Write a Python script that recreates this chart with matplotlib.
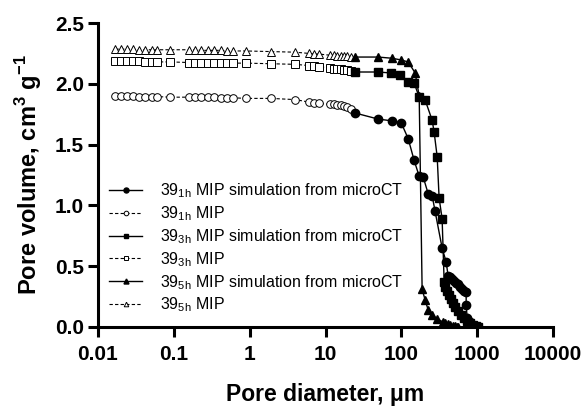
import matplotlib
matplotlib.use("Agg")
import matplotlib.pyplot as plt
import numpy as np

# pore diameter (um) of the MIP intrusion steps, shared by the three samples
d_mip = [0.017, 0.020, 0.024, 0.029, 0.035, 0.042, 0.051, 0.060, 0.089,
         0.16, 0.19, 0.23, 0.28, 0.34, 0.42, 0.51, 0.60, 0.90,
         1.9, 4.0, 6.0, 7.0, 8.1,
         11.5, 12.8, 14.2, 15.8, 17.5, 19.5, 21.5]

v_mip_1h = [1.90, 1.90, 1.90, 1.90, 1.895, 1.895, 1.895, 1.895, 1.89,
            1.89, 1.89, 1.89, 1.89, 1.89, 1.885, 1.885, 1.885, 1.88,
            1.88, 1.87, 1.85, 1.845, 1.84,
            1.83, 1.83, 1.825, 1.825, 1.82, 1.81, 1.79]
v_mip_3h = [2.185, 2.185, 2.185, 2.185, 2.185, 2.18, 2.18, 2.18, 2.18,
            2.175, 2.175, 2.175, 2.175, 2.17, 2.17, 2.17, 2.17, 2.17,
            2.165, 2.16, 2.15, 2.145, 2.14,
            2.13, 2.125, 2.12, 2.12, 2.115, 2.11, 2.105]
v_mip_5h = [2.285, 2.285, 2.285, 2.285, 2.28, 2.28, 2.28, 2.28, 2.28,
            2.28, 2.28, 2.275, 2.275, 2.275, 2.275, 2.27, 2.27, 2.27,
            2.265, 2.26, 2.25, 2.245, 2.245,
            2.235, 2.235, 2.23, 2.23, 2.225, 2.225, 2.22]

# MIP simulation from microCT
d_sim_1h = [24.5, 49.4, 75.7, 99.4, 123, 147.5, 172, 194, 226, 255, 279,
            345, 390, 414, 440, 468, 497, 528, 560, 597, 635, 675, 716,
            716, 738, 809, 885, 970, 1031]
v_sim_1h = [1.76, 1.71, 1.695, 1.68, 1.55, 1.37, 1.24, 1.235, 1.095, 1.08, 0.95,
            0.65, 0.535, 0.42, 0.41, 0.395, 0.38, 0.365, 0.35, 0.33, 0.315, 0.30, 0.29,
            0.18, 0.075, 0.04, 0.016, 0.008, 0.0]

d_sim_3h = [24.5, 49.4, 73, 96, 123, 147.5, 172, 206, 255, 271, 297, 315,
            345, 367, 378, 402, 427, 454, 482, 513, 560, 612, 668, 738,
            809, 885, 970, 1031]
v_sim_3h = [2.097, 2.097, 2.089, 2.07, 2.015, 2.007, 1.89, 1.867, 1.70, 1.60, 1.40, 1.06,
            0.89, 0.37, 0.33, 0.295, 0.26, 0.23, 0.197, 0.164, 0.13, 0.099, 0.074, 0.049,
            0.033, 0.016, 0.008, 0.0]

d_sim_5h = [24.5, 49.4, 75.7, 99.4, 123, 152, 172, 188, 206, 226, 255, 297,
            356, 380, 410, 440, 475, 510, 545, 560]
v_sim_5h = [2.22, 2.22, 2.21, 2.196, 2.18, 2.09, 1.90, 0.31, 0.222, 0.14, 0.10, 0.066,
            0.041, 0.03, 0.022, 0.016, 0.01, 0.005, 0.002, 0.0]

labels = [r"39$_{\mathregular{1h}}$ MIP simulation from microCT",
          r"39$_{\mathregular{1h}}$ MIP",
          r"39$_{\mathregular{3h}}$ MIP simulation from microCT",
          r"39$_{\mathregular{3h}}$ MIP",
          r"39$_{\mathregular{5h}}$ MIP simulation from microCT",
          r"39$_{\mathregular{5h}}$ MIP"]
x_ticks = [0.01, 0.1, 1, 10, 100, 1000, 10000]
x_ticklabels = ["0.01", "0.1", "1", "10", "100", "1000", "10000"]
y_ticks = [0.0, 0.5, 1.0, 1.5, 2.0, 2.5]

plt.rcParams['font.family'] = ['Liberation Sans', 'DejaVu Sans']
plt.rcParams['mathtext.fontset'] = 'custom'
plt.rcParams['mathtext.rm'] = 'Liberation Sans'
plt.rcParams['mathtext.bf'] = 'Liberation Sans:bold'

fig = plt.figure(figsize=(5.88, 4.07), dpi=100)
ax = fig.add_axes([98 / 588, 80 / 407, 455 / 588, 304 / 407])

sim_style = dict(color='black', linestyle='-', linewidth=1.0, markeredgecolor='black')
mip_style = dict(color='black', linestyle=(0, (3, 2)), linewidth=0.8,
                 markerfacecolor='white', markeredgecolor='black', markeredgewidth=0.7)

ax.plot(d_sim_1h, v_sim_1h, marker='o', markersize=6, label=labels[0], zorder=4, **sim_style)
ax.plot(d_mip, v_mip_1h, marker='o', markersize=5.5, label=labels[1], zorder=3, **mip_style)
ax.plot(d_sim_3h, v_sim_3h, marker='s', markersize=5.5, label=labels[2], zorder=4, **sim_style)
ax.plot(d_mip, v_mip_3h, marker='s', markersize=5.5, label=labels[3], zorder=3, **mip_style)
ax.plot(d_sim_5h, v_sim_5h, marker='^', markersize=6, label=labels[4], zorder=4, **sim_style)
ax.plot(d_mip, v_mip_5h, marker='^', markersize=5.5, label=labels[5], zorder=3, **mip_style)

ax.set_xscale('log')
ax.set_xlim(0.01, 10000)
ax.set_ylim(0, 2.5)
ax.set_xticks(x_ticks)
ax.set_xticklabels(x_ticklabels)
ax.minorticks_off()
ax.set_yticks(y_ticks)
ax.set_yticklabels([f"{t:.1f}" for t in y_ticks])

for side in ['top', 'right']:
    ax.spines[side].set_visible(False)
for side in ['left', 'bottom']:
    ax.spines[side].set_linewidth(2.2)
ax.tick_params(axis='both', which='major', direction='out', length=7, width=2.2,
               labelsize=15, pad=3)
ax.tick_params(axis='x', pad=6)
for lab in ax.get_xticklabels() + ax.get_yticklabels():
    lab.set_fontweight('bold')

ax.set_xlabel("Pore diameter, \u03bcm", fontsize=16.5, fontweight='bold', labelpad=14)
ax.set_ylabel(r"Pore volume, cm$^{\mathbf{3}}$ g$^{\mathbf{-1}}$", fontsize=17,
              fontweight='bold', labelpad=8)

ax.legend(loc='upper left', bbox_to_anchor=(0.01, 0.5), frameon=False, fontsize=11.5,
          handlelength=2.1, handletextpad=1.1, labelspacing=0.26, markerscale=0.6,
          borderaxespad=0)

fig.savefig("out.png", dpi=100)
